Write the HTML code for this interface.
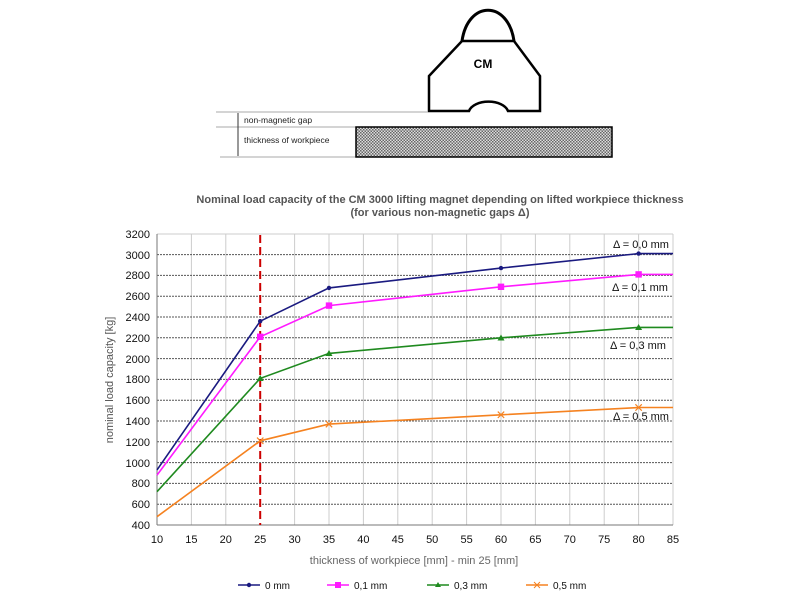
<!DOCTYPE html>
<html><head><meta charset="utf-8"><style>
body{margin:0;background:#fff;}
svg{display:block;font-family:"Liberation Sans",sans-serif;}
</style></head><body>
<svg width="800" height="600" viewBox="0 0 800 600" xmlns="http://www.w3.org/2000/svg">
<defs>
<pattern id="hatch" width="3" height="3" patternUnits="userSpaceOnUse">
<rect width="3" height="3" fill="#ddd"/><rect width="1.5" height="1.5" fill="#666"/><rect x="1.5" y="1.5" width="1.5" height="1.5" fill="#666"/>
</pattern>
</defs>
<!-- magnet drawing -->
<path d="M462,41 C468,0 508,0 514,41" fill="#fff" stroke="#000" stroke-width="3"/>
<path d="M462,41 L514,41 L540,76 L540,111 L508,111 A20,12 0 0 0 469,111 L429,111 L429,76 Z" fill="#fff" stroke="#000" stroke-width="2.5"/>
<text x="483" y="68" font-size="12" font-weight="bold" text-anchor="middle">CM</text>
<line x1="216" y1="112" x2="428" y2="112" stroke="#aaa" stroke-width="1"/>
<line x1="216" y1="127" x2="356" y2="127" stroke="#aaa" stroke-width="1"/>
<line x1="220" y1="157" x2="356" y2="157" stroke="#aaa" stroke-width="1"/>
<line x1="238" y1="113" x2="238" y2="156" stroke="#333" stroke-width="1"/>
<text x="244" y="123" font-size="8.5" fill="#222">non-magnetic gap</text>
<text x="244" y="143" font-size="8.5" fill="#222">thickness of workpiece</text>
<rect x="356" y="127" width="256" height="30" fill="url(#hatch)" stroke="#000" stroke-width="1.5"/>
<!-- title -->
<text x="440" y="203" font-size="11" font-weight="bold" fill="#555" text-anchor="middle">Nominal load capacity of the CM 3000 lifting magnet depending on lifted workpiece thickness</text>
<text x="440" y="216" font-size="11" font-weight="bold" fill="#555" text-anchor="middle">(for various non-magnetic gaps Δ)</text>
<!-- vertical grid -->
<g stroke="#ccc" stroke-width="1">
<line x1="191.4" y1="234" x2="191.4" y2="525"/><line x1="225.8" y1="234" x2="225.8" y2="525"/><line x1="294.6" y1="234" x2="294.6" y2="525"/><line x1="329" y1="234" x2="329" y2="525"/><line x1="363.4" y1="234" x2="363.4" y2="525"/><line x1="397.8" y1="234" x2="397.8" y2="525"/><line x1="432.2" y1="234" x2="432.2" y2="525"/><line x1="466.6" y1="234" x2="466.6" y2="525"/><line x1="501" y1="234" x2="501" y2="525"/><line x1="535.4" y1="234" x2="535.4" y2="525"/><line x1="569.8" y1="234" x2="569.8" y2="525"/><line x1="604.2" y1="234" x2="604.2" y2="525"/><line x1="638.6" y1="234" x2="638.6" y2="525"/><line x1="673" y1="234" x2="673" y2="525"/>
</g>
<!-- horizontal grid -->
<g stroke="#555" stroke-width="1" stroke-dasharray="2,1">
<line x1="157" y1="504.2" x2="673" y2="504.2"/><line x1="157" y1="483.4" x2="673" y2="483.4"/><line x1="157" y1="462.6" x2="673" y2="462.6"/><line x1="157" y1="441.8" x2="673" y2="441.8"/><line x1="157" y1="421" x2="673" y2="421"/><line x1="157" y1="400.2" x2="673" y2="400.2"/><line x1="157" y1="379.4" x2="673" y2="379.4"/><line x1="157" y1="358.6" x2="673" y2="358.6"/><line x1="157" y1="337.8" x2="673" y2="337.8"/><line x1="157" y1="317" x2="673" y2="317"/><line x1="157" y1="296.2" x2="673" y2="296.2"/><line x1="157" y1="275.4" x2="673" y2="275.4"/><line x1="157" y1="254.6" x2="673" y2="254.6"/>
</g>
<line x1="157" y1="234" x2="673" y2="234" stroke="#ccc"/>
<!-- axes -->
<line x1="157" y1="234" x2="157" y2="525" stroke="#777"/>
<line x1="157" y1="525" x2="673" y2="525" stroke="#777"/>
<!-- red dashed -->
<line x1="260.2" y1="235" x2="260.2" y2="525" stroke="#c00" stroke-width="2" stroke-dasharray="8,4"/>
<!-- y labels -->
<g font-size="11" fill="#111" text-anchor="end">
<text x="150" y="529">400</text><text x="150" y="508">600</text><text x="150" y="487">800</text><text x="150" y="467">1000</text><text x="150" y="446">1200</text><text x="150" y="425">1400</text><text x="150" y="404">1600</text><text x="150" y="383">1800</text><text x="150" y="363">2000</text><text x="150" y="342">2200</text><text x="150" y="321">2400</text><text x="150" y="300">2600</text><text x="150" y="279">2800</text><text x="150" y="259">3000</text><text x="150" y="238">3200</text>
</g>
<text transform="translate(113,380) rotate(-90)" font-size="11" fill="#555" text-anchor="middle">nominal load capacity [kg]</text>
<!-- x labels -->
<g font-size="11" fill="#111" text-anchor="middle">
<text x="157" y="543">10</text><text x="191.4" y="543">15</text><text x="225.8" y="543">20</text><text x="260.2" y="543">25</text><text x="294.6" y="543">30</text><text x="329" y="543">35</text><text x="363.4" y="543">40</text><text x="397.8" y="543">45</text><text x="432.2" y="543">50</text><text x="466.6" y="543">55</text><text x="501" y="543">60</text><text x="535.4" y="543">65</text><text x="569.8" y="543">70</text><text x="604.2" y="543">75</text><text x="638.6" y="543">80</text><text x="673" y="543">85</text>
</g>
<text x="414" y="564" font-size="11" fill="#666" text-anchor="middle">thickness of workpiece [mm] - min 25 [mm]</text>
<!-- series -->
<g fill="none" stroke-width="1.6">
<polyline stroke="#f58220" points="157,516.7 260.2,440.8 329,424.1 501,414.8 638.6,407.5 673,407.5"/>
<polyline stroke="#1f8a1f" points="157,491.7 260.2,378.4 329,353.4 501,337.8 638.6,327.4 673,327.4"/>
<polyline stroke="#ff1aff" points="157,475.1 260.2,336.8 329,305.6 501,286.8 638.6,274.4 673,274.4"/>
<polyline stroke="#1a1a80" points="157,469.9 260.2,321.2 329,287.9 501,268.1 638.6,253.6 673,253.6"/>
</g>
<!-- markers -->
<g fill="#1a1a80"><circle cx="260.2" cy="321.2" r="2.2"/><circle cx="329" cy="287.9" r="2.2"/><circle cx="501" cy="268.1" r="2.2"/><circle cx="638.6" cy="253.6" r="2.2"/></g>
<g fill="#ff1aff"><rect x="257" y="333.6" width="6.4" height="6.4"/><rect x="325.8" y="302.4" width="6.4" height="6.4"/><rect x="497.8" y="283.6" width="6.4" height="6.4"/><rect x="635.4" y="271.2" width="6.4" height="6.4"/></g>
<g fill="#1f8a1f"><path d="M260.2,375 l3.5,6 h-7z"/><path d="M329,350 l3.5,6 h-7z"/><path d="M501,334.5 l3.5,6 h-7z"/><path d="M638.6,324 l3.5,6 h-7z"/></g>
<g stroke="#f58220" stroke-width="1.2"><path d="M257,437.6 l6.4,6.4 M263.4,437.6 l-6.4,6.4"/><path d="M325.8,420.9 l6.4,6.4 M332.2,420.9 l-6.4,6.4"/><path d="M497.8,411.6 l6.4,6.4 M504.2,411.6 l-6.4,6.4"/><path d="M635.4,404.3 l6.4,6.4 M641.8,404.3 l-6.4,6.4"/></g>
<!-- delta labels -->
<g font-size="11" fill="#111">
<text x="613" y="248">Δ = 0,0 mm</text>
<text x="612" y="291">Δ = 0,1 mm</text>
<text x="610" y="349">Δ = 0,3 mm</text>
<text x="613" y="420">Δ = 0,5 mm</text>
</g>
<!-- legend -->
<g font-size="10" fill="#111">
<line x1="238" y1="585" x2="260" y2="585" stroke="#1a1a80" stroke-width="1.6"/><circle cx="249" cy="585" r="2.2" fill="#1a1a80"/><text x="265" y="589">0 mm</text>
<line x1="327" y1="585" x2="349" y2="585" stroke="#ff1aff" stroke-width="1.6"/><rect x="335" y="582" width="6" height="6" fill="#ff1aff"/><text x="354" y="589">0,1 mm</text>
<line x1="427" y1="585" x2="449" y2="585" stroke="#1f8a1f" stroke-width="1.6"/><path d="M438,582 l3,5 h-6z" fill="#1f8a1f"/><text x="454" y="589">0,3 mm</text>
<line x1="526" y1="585" x2="548" y2="585" stroke="#f58220" stroke-width="1.6"/><path d="M534,582 l6,6 M540,582 l-6,6" stroke="#f58220"/><text x="553" y="589">0,5 mm</text>
</g>
</svg>
</body></html>
